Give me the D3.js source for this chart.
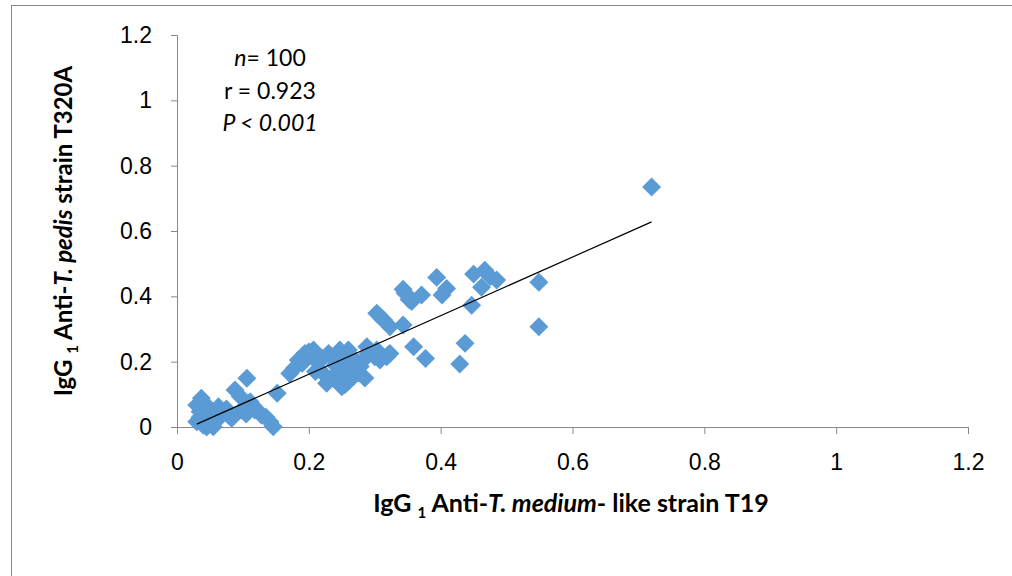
<!DOCTYPE html>
<html>
<head>
  <meta charset="utf-8">
  <title>IgG1 scatter</title>
  <style type="text/css">
    body { margin: 0; background: #fff; }
    svg { display: block; font-family: Lato, "Open Sans", sans-serif; }
    .axis path, .axis line { stroke: #898989; stroke-width: 1; }
    .axis text { font-size: 23px; fill: #000; }
  </style>
</head>
<body>
<div id="chart"></div>
<script src="https://cdn.jsdelivr.net/npm/d3@7"></script>
<script type="text/javascript">

  // values (x = anti-T. medium-like T19, y = anti-T. pedis T320A)
  var xValues = [
    0.72, 0.549, 0.549, 0.45, 0.467, 0.485, 0.475, 0.462, 0.447, 0.394,
    0.409, 0.402, 0.343, 0.346, 0.371, 0.356, 0.303, 0.308, 0.313, 0.323,
    0.343, 0.437, 0.429, 0.359, 0.377, 0.323, 0.308, 0.318, 0.303, 0.288,
    0.26, 0.247, 0.23, 0.207, 0.194, 0.184, 0.171, 0.222, 0.227, 0.25,
    0.267, 0.278, 0.152, 0.2, 0.215, 0.24, 0.255, 0.265, 0.28, 0.26,
    0.235, 0.27, 0.29, 0.178, 0.19, 0.21, 0.245, 0.255, 0.275, 0.3,
    0.106, 0.088, 0.096, 0.111, 0.118, 0.128, 0.141, 0.146, 0.037, 0.03,
    0.035, 0.03, 0.042, 0.05, 0.063, 0.07, 0.078, 0.083, 0.055, 0.045,
    0.042, 0.098, 0.105, 0.035, 0.06, 0.048, 0.115, 0.125, 0.065, 0.04,
    0.052, 0.075, 0.135, 0.32, 0.22, 0.285, 0.25, 0.205, 0.352, 0.265
  ];
  var yValues = [
    0.735, 0.443, 0.307, 0.468, 0.48, 0.45, 0.46, 0.428, 0.373, 0.458,
    0.424, 0.404, 0.422, 0.41, 0.404, 0.384, 0.348, 0.338, 0.328, 0.307,
    0.312, 0.256, 0.193, 0.246, 0.21, 0.225, 0.205, 0.215, 0.236, 0.246,
    0.236, 0.236, 0.225, 0.236, 0.225, 0.205, 0.164, 0.164, 0.134, 0.123,
    0.154, 0.185, 0.103, 0.23, 0.2, 0.19, 0.2, 0.215, 0.2, 0.14,
    0.15, 0.17, 0.225, 0.18, 0.195, 0.17, 0.165, 0.13, 0.165, 0.215,
    0.149, 0.113, 0.093, 0.077, 0.052, 0.037, 0.016, 0.001, 0.088, 0.067,
    0.047, 0.016, 0.011, 0.032, 0.062, 0.047, 0.037, 0.027, 0.001, 0.0,
    0.072, 0.052, 0.04, 0.03, 0.02, 0.055, 0.065, 0.045, 0.035, 0.005,
    0.015, 0.055, 0.03, 0.22, 0.21, 0.15, 0.215, 0.215, 0.39, 0.175
  ];
  // linear trendline as drawn in the reference
  var trendSlope = 0.897;
  var trendIntercept = -0.018;

  var xTickValues = [0, 0.2, 0.4, 0.6, 0.8, 1, 1.2];
  var xTickLabels = ["0", "0.2", "0.4", "0.6", "0.8", "1", "1.2"];
  var yTickValues = [0, 0.2, 0.4, 0.6, 0.8, 1, 1.2];
  var yTickLabels = ["0", "0.2", "0.4", "0.6", "0.8", "1", "1.2"];
  var statLines = ["n", "r = 0.923", "P < 0.001"];

  var width = 1012, height = 576;
  var margin = {top: 35, right: 44, bottom: 149, left: 177};

  var svg = d3.select('#chart')
    .append('svg')
    .attr('width', width)
    .attr('height', height);

  // outer chart border (runs off the right and bottom edges)
  svg.append('rect')
    .attr('x', 11.5)
    .attr('y', 5.5)
    .attr('width', width)
    .attr('height', height)
    .attr('fill', 'none')
    .attr('stroke', '#898989');

  var x = d3.scaleLinear().domain([0, 1.2]).range([margin.left, width - margin.right]);
  var y = d3.scaleLinear().domain([0, 1.2]).range([height - margin.bottom, margin.top]);

  var xAxis = d3.axisBottom(x)
    .tickValues(xTickValues)
    .tickFormat(function(d, i) { return xTickLabels[i]; })
    .tickSizeInner(7).tickSizeOuter(7)
    .tickPadding(20);

  var yAxis = d3.axisLeft(y)
    .tickValues(yTickValues)
    .tickFormat(function(d, i) { return yTickLabels[i]; })
    .tickSizeInner(6).tickSizeOuter(6)
    .tickPadding(19);

  svg.append('g')
    .attr('class', 'axis')
    .attr('transform', 'translate(0,' + y(0) + ')')
    .call(xAxis);

  svg.append('g')
    .attr('class', 'axis')
    .attr('transform', 'translate(' + x(0) + ',0)')
    .call(yAxis);

  // points
  var points = xValues.map(function(v, i) { return {x: v, y: yValues[i]}; });
  var diamond = d3.symbol().type(d3.symbolSquare).size(180);

  svg.append('g').selectAll('path')
    .data(points)
    .enter()
    .append('path')
    .attr('d', diamond)
    .attr('transform', function(d) {
      return 'translate(' + x(d.x) + ',' + y(d.y) + ') rotate(45)';
    })
    .attr('fill', '#5B9BD5');

  // trendline across the data range
  var xMin = d3.min(xValues), xMax = d3.max(xValues);
  svg.append('line')
    .attr('x1', x(xMin))
    .attr('y1', y(trendSlope * xMin + trendIntercept))
    .attr('x2', x(xMax))
    .attr('y2', y(trendSlope * xMax + trendIntercept))
    .attr('stroke', '#000')
    .attr('stroke-width', 1.2);

  // stats text
  var stats = svg.append('text')
    .attr('text-anchor', 'middle')
    .attr('font-size', 23);
  var l1 = stats.append('tspan').attr('x', 270).attr('y', 66);
  l1.append('tspan').attr('font-style', 'italic').text(statLines[0]);
  l1.append('tspan').text('= 100');
  stats.append('tspan').attr('x', 270).attr('y', 99).text(statLines[1]);
  stats.append('tspan').attr('x', 270).attr('y', 131).attr('font-style', 'italic').text(statLines[2]);

  // axis titles
  function title(sel, species, tail) {
    sel.append('tspan').text('IgG ');
    sel.append('tspan').attr('font-size', 15).attr('dy', 6).text('1');
    sel.append('tspan').attr('dy', -6).text(' Anti-');
    sel.append('tspan').attr('font-style', 'italic').text(species);
    sel.append('tspan').text(tail);
  }

  var xt = svg.append('text')
    .attr('x', 571)
    .attr('y', 512)
    .attr('text-anchor', 'middle')
    .attr('font-size', 25)
    .attr('font-weight', 'bold');
  title(xt, 'T. medium', '- like strain T19');

  var yt = svg.append('text')
    .attr('transform', 'translate(72,231) rotate(-90)')
    .attr('text-anchor', 'middle')
    .attr('font-size', 24)
    .attr('font-weight', 'bold');
  title(yt, 'T. pedis', ' strain T320A');

</script>
</body>
</html>
